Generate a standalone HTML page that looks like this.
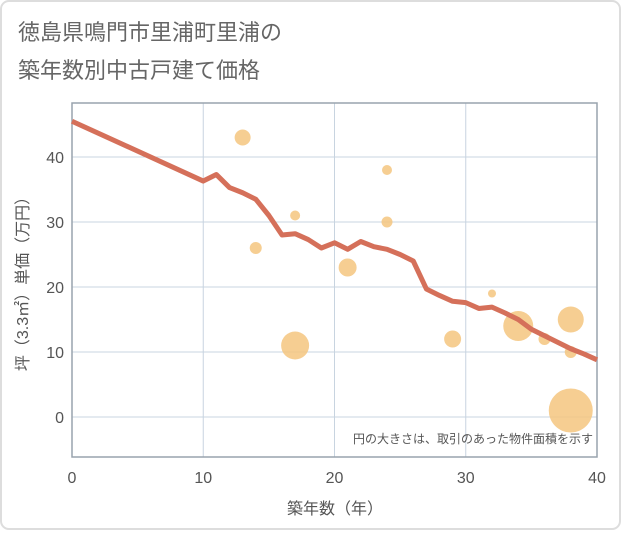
<!DOCTYPE html>
<html><head><meta charset="utf-8"><style>
body{margin:0;background:#fff;}
svg text{font-family:"Liberation Sans","Noto Sans CJK JP",sans-serif;}
</style></head><body>
<svg width="621" height="530" viewBox="0 0 621 530">
<rect x="1" y="1" width="619" height="528" rx="8" fill="#fff" stroke="#ddd" stroke-width="2"/>
<text x="18" y="40" font-size="22" fill="#666">徳島県鳴門市里浦町里浦の</text>
<text x="18" y="78" font-size="22" fill="#666">築年数別中古戸建て価格</text>
<g id="grid"></g>
<rect x="72" y="103" width="525" height="354" fill="none" stroke="#99a3ad" stroke-width="1.5"/>
<g id="bubbles"></g>
<g id="line"></g>
<g id="ticks"></g>
<text x="593" y="443" font-size="12" fill="#555" text-anchor="end">円の大きさは、取引のあった物件面積を示す</text>
<text x="335" y="514" font-size="16" fill="#555" text-anchor="middle">築年数（年）</text>
<text transform="translate(28,280) rotate(-90)" font-size="16" fill="#555" text-anchor="middle">坪（3.3㎡）単価（万円）</text>
</svg>
<script>
const xTicks=[0,10,20,30,40];
const yTicks=[0,10,20,30,40];
const lineYears=[0,10,11,12,13,14,15,16,17,18,19,20,21,22,23,24,25,26,27,28,29,30,31,32,33,34,35,36,37,38,39,40];
const linePrices=[45.5,36.3,37.3,35.3,34.5,33.5,31,28,28.2,27.3,26,26.8,25.8,27,26.2,25.8,25,24,19.7,18.7,17.8,17.6,16.7,16.9,16,15,13.5,12.5,11.5,10.5,9.7,8.8];
const bubbleYears=[13,17,14,24,24,21,17,29,32,34,36,38,38,38];
const bubblePrices=[43,31,26,38,30,23,11,12,19,14,12,15,10,1];
const bubbleSizes=[8,5,6,5,5.5,9,14,8.5,4,15,6,13,6,22];
const NS="http://www.w3.org/2000/svg";
const X=v=>72+v*(525/40);
const Y=v=>417-v*6.5;
function mk(t,a,p){const e=document.createElementNS(NS,t);for(const k in a)e.setAttribute(k,a[k]);p.appendChild(e);return e;}
const g=document.getElementById('grid'),tk=document.getElementById('ticks');
xTicks.forEach(v=>{
 const l=mk('line',{x1:X(v),x2:X(v),y1:103,y2:457,stroke:'#c8d4e0','stroke-width':1},g);
 
 
 const t=mk('text',{x:X(v),y:483,'font-size':16,fill:'#555','text-anchor':'middle'},tk);
 t.textContent=v;
 
 
});
yTicks.forEach(v=>{
 const l=mk('line',{x1:72,x2:597,y1:Y(v),y2:Y(v),stroke:'#c8d4e0','stroke-width':1},g);
 
 
 const t=mk('text',{x:64,y:Y(v)+6,'font-size':16,fill:'#555','text-anchor':'end'},tk);
 t.textContent=v;
 
 
});
const bg=document.getElementById('bubbles');
bubbleYears.forEach((yr,i)=>{
 const c=mk('circle',{cx:X(yr),cy:Y(bubblePrices[i]),r:bubbleSizes[i],fill:'#f5c67f','fill-opacity':0.85},bg);
 
 
});
const pts=lineYears.map((yr,i)=>X(yr)+','+Y(linePrices[i])).join(' ');
const pl=mk('polyline',{points:pts,fill:'none',stroke:'#d5705a','stroke-width':5,'stroke-linejoin':'round'},document.getElementById('line'));


</script>
</body></html>
